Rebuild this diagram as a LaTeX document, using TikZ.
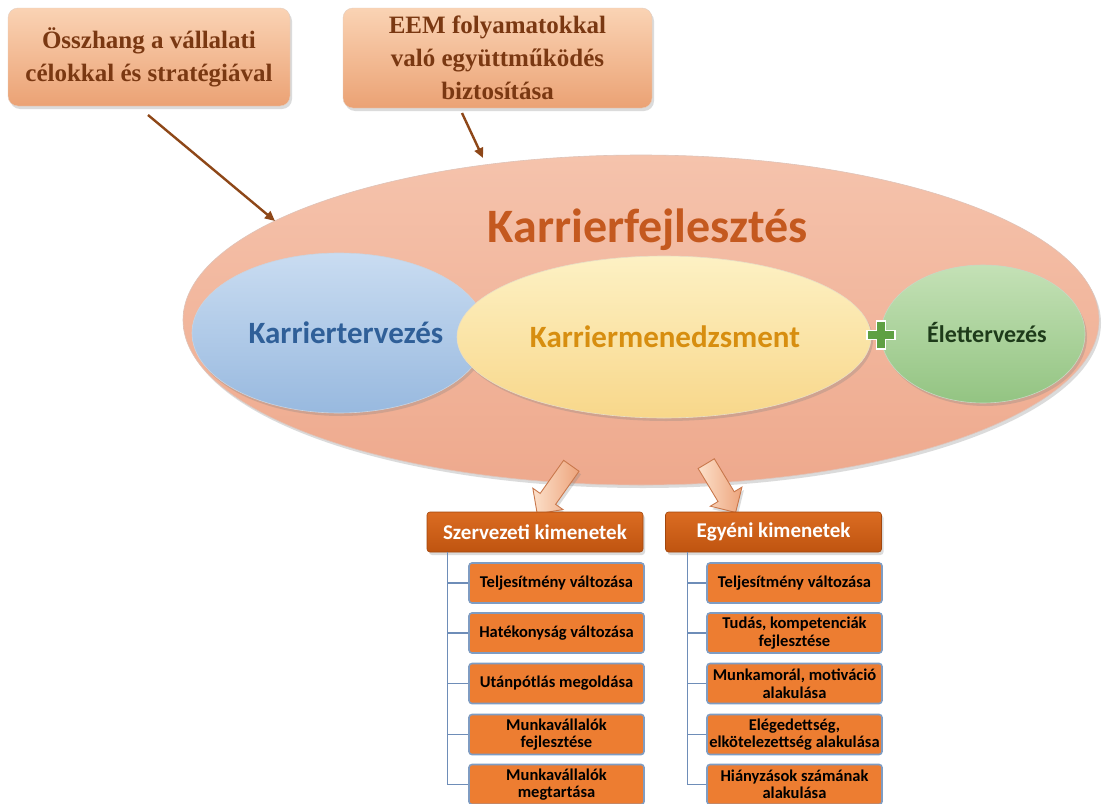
\documentclass[tikz,border=0pt]{standalone}
\usepackage{fontspec}
\setmainfont{Liberation Serif}
\newfontfamily\calib{Carlito}
\usetikzlibrary{shapes.geometric,shapes.arrows,shadows,arrows.meta}

\definecolor{peachtop}{HTML}{FAD3B4}
\definecolor{peachbot}{HTML}{EBA274}
\definecolor{brownink}{HTML}{7A3812}
\definecolor{leaderbrown}{HTML}{8E4718}
\definecolor{salmontop}{HTML}{F5C3AC}
\definecolor{salmonbot}{HTML}{EEA98D}
\definecolor{titleorange}{HTML}{C4591F}
\definecolor{bluetop}{HTML}{C9DCF1}
\definecolor{bluebot}{HTML}{98B9DF}
\definecolor{blueink}{HTML}{2F5F98}
\definecolor{yellowtop}{HTML}{FDF1C4}
\definecolor{yellowbot}{HTML}{F8D78A}
\definecolor{yellowink}{HTML}{D78E10}
\definecolor{greentop}{HTML}{C4E1B6}
\definecolor{greenbot}{HTML}{93C482}
\definecolor{greenink}{HTML}{1E3B1A}
\definecolor{plusgreen}{HTML}{5FA043}
\definecolor{headtop}{HTML}{DB6C22}
\definecolor{headbot}{HTML}{BF5410}
\definecolor{itemfill}{HTML}{ED7D31}
\definecolor{itemedge}{HTML}{7F9CC2}
\definecolor{treeline}{HTML}{6E8DB8}
\definecolor{dartop}{HTML}{FCE0CA}
\definecolor{darbot}{HTML}{EDA47C}
\definecolor{daredge}{HTML}{C9784C}

\tikzset{
  softshadow/.style={drop shadow={opacity=0.28, shadow xshift=2pt, shadow yshift=-3pt}},
  goalbox/.style={rounded corners=10pt, top color=peachtop, bottom color=peachbot,
    draw=peachbot!80!black!40, line width=0.4pt, softshadow,
    font=\fontsize{25}{33}\selectfont\bfseries, text=brownink, align=center, inner sep=0pt},
  leader/.style={draw=leaderbrown, line width=2.4pt,
    -{Triangle[length=10pt,width=9pt]}},
  blob/.style={ellipse, inner sep=0pt, softshadow, line width=0.6pt},
  downarrow/.style={single arrow, single arrow head extend=9pt, inner xsep=0pt,
    inner ysep=9pt, minimum width=0pt, single arrow tip angle=90,
    draw=daredge, line width=0.9pt,
    left color=dartop, right color=darbot, softshadow},
  headbox/.style={rounded corners=3pt, top color=headtop, bottom color=headbot,
    draw=headbot!85!black, line width=0.6pt, minimum width=216pt, minimum height=40pt,
    font=\calib\fontsize{21}{24}\selectfont\bfseries, text=white, inner sep=0pt, softshadow},
  itembox/.style={rounded corners=3pt, fill=itemfill, draw=itemedge, line width=1.6pt,
    minimum width=175pt, minimum height=40pt, align=center, inner sep=0pt,
    font=\calib\fontsize{16.5}{17.5}\selectfont\bfseries, text=black},
  branch/.style={draw=treeline, line width=1.3pt}
}

\begin{document}
\begin{tikzpicture}[x=1pt,y=-1pt]
\useasboundingbox (0,0) rectangle (1105,803);
\clip (0,0) rectangle (1105,803);
\fill[white] (0,0) rectangle (1105,803);

% goal boxes at the top
\node[goalbox, minimum width=282pt, minimum height=98pt] (goal1) at (149,57)
  {Összhang a vállalati\\célokkal és stratégiával};
\node[goalbox, minimum width=309pt, minimum height=100pt] (goal2) at (497.5,58)
  {EEM folyamatokkal\\való együttműködés\\biztosítása};

% the large career-development ellipse and its parts
\node[blob, minimum width=916pt, minimum height=330pt, top color=salmontop,
  bottom color=salmonbot, draw=salmonbot!80!black!50] (dev) at (641,320) {};
\node[font=\calib\fontsize{48}{52}\selectfont\bfseries, text=titleorange] (devtitle)
  at (648,230) {Karrierfejlesztés};

\node[blob, minimum width=294pt, minimum height=160pt, top color=bluetop,
  bottom color=bluebot, draw=bluebot!80!black!40] (plan) at (339,333) {};
\node[font=\calib\fontsize{31}{34}\selectfont\bfseries, text=blueink] at (346,333)
  {Karriertervezés};

\node[blob, minimum width=414pt, minimum height=162pt, top color=yellowtop,
  bottom color=yellowbot, draw=yellowbot!80!black!40] (mgmt) at (664,337) {};
\node[font=\calib\fontsize{31}{34}\selectfont\bfseries, text=yellowink] at (665,337)
  {Karriermenedzsment};

\node[blob, minimum width=204pt, minimum height=138pt, top color=greentop,
  bottom color=greenbot, draw=greenbot!80!black!40] (life) at (983,334) {};
\node[font=\calib\fontsize{24}{28}\selectfont\bfseries, text=greenink] at (987,333)
  {Élettervezés};

% plus sign between the management and life-planning ellipses
\fill[plusgreen, draw=white, line width=1.4pt]
  (876.5,321) -- (885.5,321) -- (885.5,330.5) -- (895,330.5) -- (895,339.5)
  -- (885.5,339.5) -- (885.5,349) -- (876.5,349) -- (876.5,339.5) -- (867,339.5)
  -- (867,330.5) -- (876.5,330.5) -- cycle;

% leader arrows from the goal boxes
\coordinate (lead1s) at (148,115);
\coordinate (lead1e) at (275,221);
\coordinate (lead2s) at (462,113);
\coordinate (lead2e) at (483,158);
\draw[leader] (lead1s) -- (lead1e);
\draw[leader] (lead2s) -- (lead2e);

% block arrows towards the outcome groups
\node[downarrow, minimum height=59pt, rotate=234.7] (arrowL) at (557,486) {};
\node[downarrow, minimum height=57pt, rotate=-58.9] (arrowR) at (718.5,484) {};

% outcome headers
\node[headbox] (orgH) at (535,532) {Szervezeti kimenetek};
\node[headbox] (indH) at (773.5,532) {Egyéni kimenetek};

% organisational outcomes
\node[itembox] (o1) at (556.5,583) {Teljesítmény változása};
\node[itembox] (o2) at (556.5,633) {Hatékonyság változása};
\node[itembox] (o3) at (556.5,683.5) {Utánpótlás megoldása};
\node[itembox] (o4) at (556.5,734.5) {Munkavállalók\\fejlesztése};
\node[itembox] (o5) at (556.5,784.5) {Munkavállalók\\megtartása};

% individual outcomes
\node[itembox] (i1) at (794.5,583) {Teljesítmény változása};
\node[itembox] (i2) at (794.5,633) {Tudás, kompetenciák\\fejlesztése};
\node[itembox] (i3) at (794.5,683.5) {Munkamorál, motiváció\\alakulása};
\node[itembox] (i4) at (794.5,734.5) {Elégedettség,\\elkötelezettség alakulása};
\node[itembox] (i5) at (794.5,784.5) {Hiányzások számának\\alakulása};

% tree branches
\foreach \k in {o1,o2,o3,o4,o5}
  \draw[branch] ([xshift=21pt]orgH.south west) |- (\k.west);
\foreach \k in {i1,i2,i3,i4,i5}
  \draw[branch] ([xshift=22pt]indH.south west) |- (\k.west);
\end{tikzpicture}
\end{document}
